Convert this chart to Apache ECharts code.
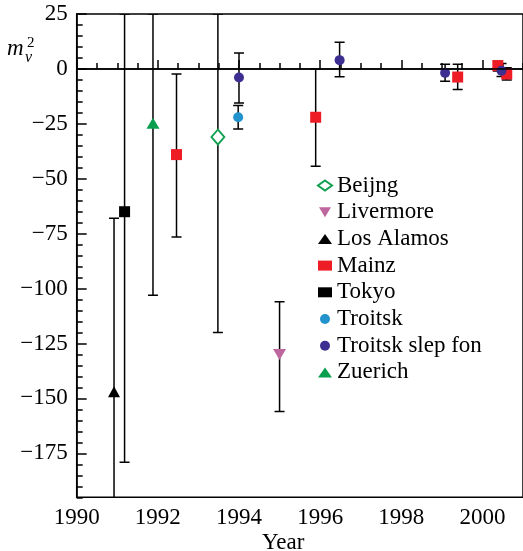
<!DOCTYPE html>
<html>
<head>
<meta charset="utf-8">
<script src="https://cdn.jsdelivr.net/npm/echarts@6/dist/echarts.min.js"></script>
<style>html,body{margin:0;padding:0;background:#fff}#c{width:523px;height:551px}</style>
</head>
<body>
<div id="c"></div>
<script>
// ---- data ----
const xTicks = [1990, 1992, 1994, 1996, 1998, 2000];
const yTicks = [25, 0, -25, -50, -75, -100, -125, -150, -175];

const beijingYear = [1993.48], beijingM2 = [-31], beijingLow = [-120], beijingHigh = [25];
const livermoreYear = [1995.0], livermoreM2 = [-130], livermoreLow = [-156], livermoreHigh = [-106];
const losAlamosYear = [1990.92], losAlamosM2 = [-147], losAlamosLow = [-226], losAlamosHigh = [-68];
const mainzYear = [1992.46, 1995.89, 1999.39, 2000.38, 2000.6];
const mainzM2 = [-39, -22, -3.7, 1.5, -2.3];
const mainzLow = [-76.5, -44.3, -9.4, -1.0, -5.0];
const mainzHigh = [-2.3, 0, 2.1, 3.5, 0.5];
const tokyoYear = [1991.18], tokyoM2 = [-65], tokyoLow = [-179], tokyoHigh = [25];
const troitskYear = [1993.98], troitskM2 = [-22], troitskLow = [-27.3], troitskHigh = [-16.7];
const slepYear = [1994.0, 1996.48, 1999.08, 2000.47];
const slepM2 = [-3.9, 4.0, -1.8, -0.8];
const slepLow = [-15.5, -3.6, -5.6, -3.5];
const slepHigh = [7.3, 12.1, 2.1, 2.5];
const zuerichYear = [1991.88], zuerichM2 = [-24.7], zuerichLow = [-103], zuerichHigh = [25];

const groups = [
  {name: 'Beijng', x: beijingYear, y: beijingM2, lo: beijingLow, hi: beijingHigh},
  {name: 'Livermore', x: livermoreYear, y: livermoreM2, lo: livermoreLow, hi: livermoreHigh},
  {name: 'Los Alamos', x: losAlamosYear, y: losAlamosM2, lo: losAlamosLow, hi: losAlamosHigh},
  {name: 'Mainz', x: mainzYear, y: mainzM2, lo: mainzLow, hi: mainzHigh},
  {name: 'Tokyo', x: tokyoYear, y: tokyoM2, lo: tokyoLow, hi: tokyoHigh},
  {name: 'Troitsk', x: troitskYear, y: troitskM2, lo: troitskLow, hi: troitskHigh},
  {name: 'Troitsk slep fon', x: slepYear, y: slepM2, lo: slepLow, hi: slepHigh},
  {name: 'Zuerich', x: zuerichYear, y: zuerichM2, lo: zuerichLow, hi: zuerichHigh}
];

// ---- styles ----
const FONT = '"Liberation Serif", "Times New Roman", serif';
const styles = {
  'Beijng': {symbol: 'diamond', symbolSize: [13, 15], itemStyle: {color: '#ffffff', borderColor: '#10a050', borderWidth: 1.8, opacity: 1}},
  'Livermore': {symbol: 'triangle', symbolRotate: 180, symbolSize: [13, 11], itemStyle: {color: '#bd679e', opacity: 1}},
  'Los Alamos': {symbol: 'triangle', symbolSize: [12, 11], itemStyle: {color: '#000000', opacity: 1}},
  'Mainz': {symbol: 'rect', symbolSize: 11, itemStyle: {color: '#ee1c25', opacity: 1}},
  'Tokyo': {symbol: 'rect', symbolSize: 11, itemStyle: {color: '#000000', opacity: 1}},
  'Troitsk': {symbol: 'circle', symbolSize: 10, itemStyle: {color: '#2293cc', opacity: 1}},
  'Troitsk slep fon': {symbol: 'circle', symbolSize: 10, itemStyle: {color: '#3d2f92', opacity: 1}},
  'Zuerich': {symbol: 'triangle', symbolSize: [13, 11], itemStyle: {color: '#0a9f4f', opacity: 1}}
};

const errData = [];
groups.forEach(g => g.x.forEach((xv, i) => errData.push([xv, g.lo[i], g.hi[i]])));

function renderErr(params, api) {
  const x = api.value(0), lo = api.value(1), hi = api.value(2);
  const p1 = api.coord([x, lo]), p2 = api.coord([x, hi]);
  const w = 5;
  const st = {stroke: '#000', lineWidth: 1.5};
  return {type: 'group', children: [
    {type: 'line', shape: {x1: p1[0], y1: p1[1], x2: p2[0], y2: p2[1]}, style: st},
    {type: 'line', shape: {x1: p1[0] - w, y1: p1[1], x2: p1[0] + w, y2: p1[1]}, style: st},
    {type: 'line', shape: {x1: p2[0] - w, y1: p2[1], x2: p2[0] + w, y2: p2[1]}, style: st}
  ]};
}

const series = [{
  type: 'custom', name: 'err', renderItem: renderErr, data: errData, clip: true, z: 1, silent: true,
  encode: {x: 0, y: [1, 2]},
  markLine: {silent: true, symbol: 'none', label: {show: false}, lineStyle: {color: '#000', width: 1.5, type: 'solid'},
    data: [{yAxis: 0}], animation: false}
}];
groups.forEach(g => {
  const s = styles[g.name];
  series.push(Object.assign({
    type: 'scatter', name: g.name, z: 3,
    data: g.x.map((xv, i) => [xv, g.y[i]])
  }, s));
});

const legendData = groups.map(g => g.name === 'Livermore'
  ? {name: g.name, icon: 'path://M0,0 L12,0 L6,10 Z'}
  : {name: g.name});

const labelRich = {t: {fontFamily: FONT, fontSize: 23, color: '#000'}};

const chart = echarts.init(document.getElementById('c'), null, {renderer: 'canvas'});
const axisLineStyle = {color: '#000', width: 1.5};
chart.setOption({
  animation: false,
  backgroundColor: '#fff',
  textStyle: {fontFamily: FONT, color: '#000'},
  grid: {left: 76.7, top: 14, width: 451, height: 483.3, show: true, borderColor: '#000', borderWidth: 1.5, backgroundColor: 'transparent'},
  xAxis: [
    {type: 'value', position: 'bottom', min: 1990, max: 2001, interval: 0.5,
     axisLine: {show: true, lineStyle: axisLineStyle},
     axisTick: {show: true, inside: true, length: 6, lineStyle: {color: '#000', width: 1.5}},
     axisLabel: {show: false}, splitLine: {show: false}},
    {type: 'value', position: 'bottom', min: 1990, max: 2001,
     axisLine: {show: false},
     axisTick: {show: true, inside: true, length: 9, customValues: xTicks, lineStyle: {color: '#000', width: 1.5}},
     axisLabel: {show: true, customValues: xTicks, fontFamily: FONT, fontSize: 23, color: '#000', margin: 9,
       rich: labelRich, formatter: v => '{t|' + String(v) + '}'},
     splitLine: {show: false}}
  ],
  yAxis: [
    {type: 'value', position: 'left', min: -195, max: 25, interval: 5,
     axisLine: {show: true, lineStyle: axisLineStyle},
     axisTick: {show: true, inside: true, length: 6, lineStyle: {color: '#000', width: 1.5}},
     axisLabel: {show: false}, splitLine: {show: false}},
    {type: 'value', position: 'left', min: -195, max: 25,
     axisLine: {show: false},
     axisTick: {show: true, inside: true, length: 10, customValues: yTicks, lineStyle: {color: '#000', width: 1.5}},
     axisLabel: {show: true, customValues: yTicks, fontFamily: FONT, fontSize: 23, color: '#000', margin: 9,
       rich: labelRich, formatter: v => '{t|' + (v < 0 ? '\u2212' + Math.abs(v) : String(v)) + '}'},
     splitLine: {show: false}}
  ],
  legend: {
    orient: 'vertical', left: 312, top: 169,
    itemWidth: 14, itemHeight: 10, itemGap: 3.7,
    data: legendData,
    textStyle: {fontFamily: FONT, fontSize: 23, color: '#000', lineHeight: 23}
  },
  graphic: [
    {type: 'text', left: 7, top: 37, style: {text: 'm', fontFamily: FONT, fontStyle: 'italic', fontSize: 23, fill: '#000'}},
    {type: 'text', left: 27, top: 36, style: {text: '2', fontFamily: FONT, fontSize: 15, fill: '#000'}},
    {type: 'text', left: 25, top: 50, style: {text: 'ν', fontFamily: FONT, fontStyle: 'italic', fontSize: 16, fill: '#000'}},
    {type: 'text', left: 262, top: 531, style: {text: 'Year', fontFamily: FONT, fontSize: 23, fill: '#000'}}
  ],
  series: series
});
</script>
</body>
</html>
